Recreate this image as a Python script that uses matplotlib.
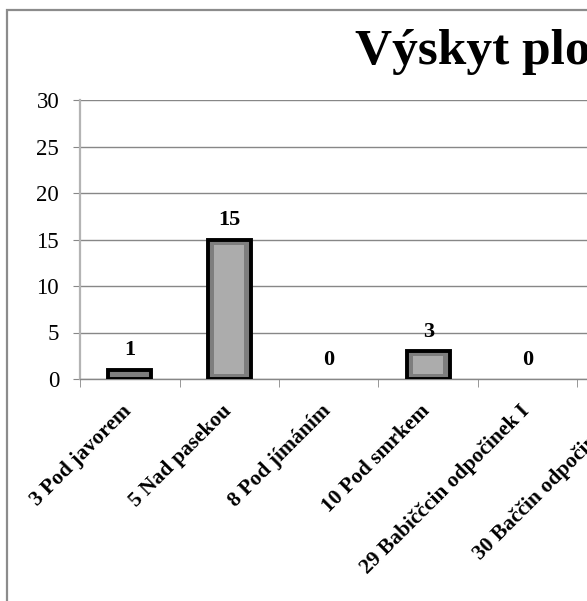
import numpy as np
import matplotlib.pyplot as plt
from matplotlib.patches import Rectangle, Shadow
from matplotlib.transforms import ScaledTranslation

plt.rcParams['font.family'] = ['Liberation Serif', 'DejaVu Serif']

# Počet výskytů na jednotlivých lokalitách
lokality = ['3 Pod javorem', '5 Nad pasekou', '8 Pod jímáním', '10 Pod smrkem',
            '29 Babiččcin odpočinek I', '30 Baččin odpočinek II']
pocty = [1, 15, 0, 3, 0, 0]

fig = plt.figure(figsize=(5.87, 6.01), dpi=100)

# šedý rámeček grafu (pokračuje za pravý a dolní okraj)
fig.patches.append(Rectangle((7 / 587, -0.2), 2, 1 - 10 / 601 + 0.2,
                             transform=fig.transFigure, fill=False,
                             edgecolor='#8c8c8c', linewidth=1.6))

ax = fig.add_axes([80 / 587, 222 / 601, 99.5 * len(lokality) / 587, 279 / 601])
x = np.arange(len(lokality))
pocty = np.array(pocty, dtype=float)

ax.set_xlim(-0.5, len(lokality) - 0.5)
ax.set_ylim(0, 30)
ax.set_yticks(np.arange(0, 31, 5))
ax.yaxis.grid(True, color='#878787', linewidth=1.0)
ax.set_axisbelow(True)

for s in ['top', 'right']:
    ax.spines[s].set_visible(False)
ax.spines['left'].set_color('#b4b4b4')
ax.spines['left'].set_linewidth(1.6)
ax.spines['bottom'].set_color('#878787')
ax.spines['bottom'].set_linewidth(1.0)

# sloupce s černým okrajem a zkosením
bars = ax.bar(x, pocty, width=0.43, color='#7e7e7e', edgecolor='black',
              linewidth=2.8, zorder=3)
inset = 0.55
vnitrni = ax.bar(x, np.maximum(pocty - 2 * inset, 0), bottom=inset, width=0.30,
                 color='#acacac', linewidth=0, zorder=4)
for b, bi, v in zip(bars, vnitrni, pocty):
    if v == 0:
        b.set_visible(False)
        bi.set_visible(False)
        continue
    for i, a in enumerate([0.22, 0.15, 0.10, 0.06]):
        sh = Shadow(b, 3 + 2 * i, -1, alpha=a, zorder=2)
        sh.set_facecolor('#5a5a5a')
        sh.set_edgecolor('none')
        ax.add_patch(sh)

# popisky hodnot
for xi, v in zip(x, pocty):
    ax.annotate(f'{v:.0f}', (xi, v), xytext=(0, 14), textcoords='offset points',
                ha='center', va='center', fontsize=16, fontweight='bold', zorder=5)

ax.set_xticks(x)
ax.set_xticklabels(lokality, rotation=45, ha='right', rotation_mode='anchor',
                   fontsize=15.5, fontweight='bold')
ax.tick_params(axis='x', which='major', length=0, pad=16)
posun = ScaledTranslation(-8 / 100, 0, fig.dpi_scale_trans)
for lbl in ax.get_xticklabels():
    lbl.set_transform(lbl.get_transform() + posun)
ax.set_xticks(np.arange(-0.5, len(lokality), 1), minor=True)
ax.tick_params(axis='x', which='minor', length=6, color='#878787', direction='out')
ax.tick_params(axis='y', length=5, color='#878787', labelsize=16.5, pad=10)

fig.text(355 / 587, 1 - 64 / 601, 'Výskyt ploštěnek', fontsize=37,
         fontweight='bold', ha='left', va='baseline')

fig.savefig('out.png', dpi=100)
